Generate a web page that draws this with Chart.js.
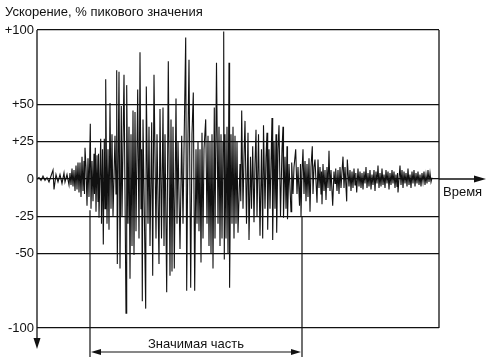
<!DOCTYPE html>
<html><head><meta charset="utf-8">
<script src="https://cdn.jsdelivr.net/npm/chart.js@4"></script>
<style>html,body{margin:0;padding:0;background:#fff}</style>
</head><body>
<canvas id="c" width="489" height="360"></canvas>
<script>
// time in arbitrary units, acceleration in % of peak
const times = [
0,2,4,6,8,10,12,14,16,17,19,21,23,25,27,28,30,32,33,34,35,36,37,38,39,40,41,42,43,44,45,46,47,47.5,48,49,50,51,52,53.3,54,55,56,57,57.5,58.3,59,60,61,61.5,62,63.7,64.5,65.5,66.3,67.3,68,68.7,70,71,72,73,74,75,76,78,79,79.7,80.3,82,83,84.3,85,87,89,89.7,91,92,93,94,95,96,97,98,99,100.7,102,103,104,104.6,105.3,106,108.7,109.3,111,112,113,114.7,115.7,117,119,120,122,123,124.5,126,127,128,129.7,131.3,133,134,135,136,137.3,139,140,141,143,144.7,146,147,148.7,149.7,151,152,153.7,155,156.3,157.7,159,160,161,162,163,164,165,166,167,168.7,170,171,172,173,174,175,176,177.3,178,179.5,181,182,183,184,185,186,186.7,187.3,188,189,190,191,192,192.6,194,195,196,197,198,199,200,201,203,203.8,204.7,206,207,208,209.5,211,212,213.5,214.5,215.7,217,218,219,220,221.5,223,224.5,225.7,226.5,228,229,230,230.7,232,233,235,235.7,237,238,239,239.7,241,242,243.5,245,246,246.5,248,249,250,250.5,252,254,254.7,256,257,258.7,260,261,262.5,263.5,264,265,266,267,268,269,270,271,272,273,274,275.3,276,277,278,280,281,282,283,284,284.5,285,286,287,288,289,290,291,292,293,294,295.7,297,298,298.7,300,301,302,303,304,305,306,307,308,309.7,310.3,312,313,314,315,316,317,318,318.8,319.7,321,322,323,324,325,326,327,328,329,330,331,332,333,334,335,336,337,338,339,340,341,342,343,344,345,346,347,348,349,350,351,352,353,354,355,356,357,358,359,360,360.5,361,363,364,365,366,367,368,369,370,371,372,373,374,375,376,377,378,379,380,381,382,383,384,385,386,387,388,389,390,391,392,393,394,395
];
const accel = [
0,1,-1,2,-1,1,-2,2,6,-7,3,-2,3,-3,4,-2,3,-4,4,-4,7,-5,6,-8,9,-7,11,-9,11,-12,15,-8,12,-10,21,8,-18,14,-12,37,-20,12,-15,17,-10,21,-22,16,-15,17,-26,27,-30,20,-44,27,-20,67,-30,20,-34,51,-20,30,-25,29,-10,73,-57,72,-60,49,-25,70,-90,63,-30,35,-67,30,-45,46,-51,45,-35,60,-40,85,-20,20,-82,40,-87,62,-30,35,-45,38,-65,70,-40,30,-57,47,-40,48,-45,30,-76,79,-65,40,-62,35,-60,54,-30,25,-47,29,-30,20,95,-75,30,80,-73,30,58,-75,20,-30,25,-35,20,-56,31,-40,20,40,-30,29,-45,25,-50,30,-60,48,-40,78,-30,35,-45,30,-40,25,99,-54,30,-40,35,-50,78,-73,30,-30,35,-40,29,-30,25,-36,10,-15,46,-20,15,39,-30,31,-41,15,-20,22,-29,10,33,-25,30,-38,20,-40,36,-20,15,31,-34,20,-20,41,-41,25,-20,30,-36,20,36,-25,20,35,-26,15,-20,22,-27,10,-22,11,-10,8,20,-10,8,-18,10,-25,5,20,-10,12,-15,10,-12,14,-22,8,22,-10,8,13,-16,13,-6,8,-10,5,-17,10,-8,6,-14,8,-6,19,-8,6,-18,5,-3,7,-8,6,-10,8,-6,5,15,-6,8,-15,13,-5,6,-8,5,-6,7,-4,4,-9,7,-5,5,-6,4,-7,5,-3,8,-6,4,-5,6,-7,3,-4,6,-8,5,-3,9,-6,4,-5,7,-4,3,-6,6,-3,5,-7,4,-4,6,-3,5,-6,3,-5,4,-9,9,-4,6,-6,5,-3,4,-5,7,-4,3,-6,5,-3,6,-5,4,-3,5,-4,3,-5,4,-2,5,-4,3,-3,6,-2,4,-2,1
];
const yTicks = [-100, -50, -25, 0, 25, 50, 100];
const yTickLabels = ['-100', '-50', '-25', '0', '+25', '+50', '+100'];
const yTitle = 'Ускорение, % пикового значения';
const xTitle = 'Время';
const spanLabel = 'Значимая часть';
const spanStart = 53, spanEnd = 265;       // significant duration bounds (time units)
const spanStartVal = -21, spanEndVal = -25; // where the bounding lines leave the trace

const FONT = "'Liberation Sans', Arial, Helvetica, sans-serif";
const INK = '#111';

const decor = {
  id: 'decor',
  afterDraw(chart) {
    const {ctx, chartArea: a, scales: {x, y}} = chart;
    ctx.save();
    ctx.strokeStyle = INK; ctx.fillStyle = INK; ctx.lineWidth = 1.3;
    const y0 = y.getPixelForValue(0);
    // y axis with downward arrow
    ctx.beginPath(); ctx.moveTo(a.left, a.top); ctx.lineTo(a.left, 340); ctx.stroke();
    ctx.beginPath(); ctx.moveTo(a.left - 3.5, 338); ctx.lineTo(a.left + 3.5, 338); ctx.lineTo(a.left, 349); ctx.closePath(); ctx.fill();
    // right border
    ctx.beginPath(); ctx.moveTo(a.right, a.top); ctx.lineTo(a.right, a.bottom); ctx.stroke();
    // time axis extension with arrow
    ctx.beginPath(); ctx.moveTo(a.right, y0); ctx.lineTo(476, y0); ctx.stroke();
    ctx.beginPath(); ctx.moveTo(474, y0 - 3.5); ctx.lineTo(474, y0 + 3.5); ctx.lineTo(486, y0); ctx.closePath(); ctx.fill();
    // significant duration bracket
    const xl = x.getPixelForValue(spanStart), xr = x.getPixelForValue(spanEnd);
    ctx.lineWidth = 1.2;
    ctx.beginPath(); ctx.moveTo(xl, y.getPixelForValue(spanStartVal)); ctx.lineTo(xl, 357); ctx.stroke();
    ctx.beginPath(); ctx.moveTo(xr, y.getPixelForValue(spanEndVal)); ctx.lineTo(xr, 357); ctx.stroke();
    const ya = 352;
    ctx.beginPath(); ctx.moveTo(xl + 6, ya); ctx.lineTo(xr - 6, ya); ctx.stroke();
    ctx.beginPath(); ctx.moveTo(xl + 1, ya); ctx.lineTo(xl + 11, ya - 3); ctx.lineTo(xl + 11, ya + 3); ctx.closePath(); ctx.fill();
    ctx.beginPath(); ctx.moveTo(xr - 1, ya); ctx.lineTo(xr - 11, ya - 3); ctx.lineTo(xr - 11, ya + 3); ctx.closePath(); ctx.fill();
    // texts
    ctx.textBaseline = 'alphabetic';
    ctx.font = '13px ' + FONT;
    ctx.textAlign = 'left';
    ctx.fillText(yTitle, 5, 16);
    ctx.fillText(xTitle, 443, 196);
    ctx.textAlign = 'center';
    ctx.fillText(spanLabel, (xl + xr) / 2, 348);
    ctx.restore();
  }
};

new Chart(document.getElementById('c'), {
  type: 'line',
  data: {
    datasets: [{
      data: times.map((t, i) => ({x: t, y: accel[i]})),
      borderColor: INK,
      borderWidth: 1.1,
      pointRadius: 0,
      tension: 0,
      fill: false
    }]
  },
  options: {
    responsive: false,
    devicePixelRatio: 1,
    animation: false,
    layout: {padding: {top: 30, right: 50, bottom: 32, left: 0}},
    plugins: {legend: {display: false}, tooltip: {enabled: false}},
    scales: {
      x: {type: 'linear', min: 0, max: 402, display: false},
      y: {
        min: -100, max: 100,
        afterBuildTicks: s => { s.ticks = yTicks.map(v => ({value: v})); },
        afterFit: s => { s.width = 37; },
        grid: {color: INK, lineWidth: 1.3, drawTicks: false},
        border: {display: false},
        ticks: {
          padding: 3, color: INK,
          font: {size: 13, family: FONT},
          callback: (v, i) => yTickLabels[i]
        }
      }
    }
  },
  plugins: [decor]
});
</script>
</body></html>
